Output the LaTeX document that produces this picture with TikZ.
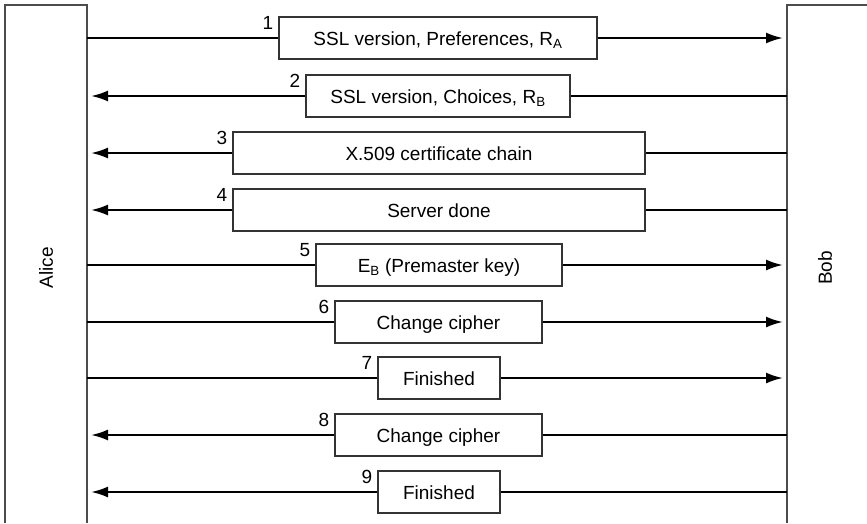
\documentclass[tikz,border=0pt]{standalone}
\usepackage{fontspec}
\setmainfont{Liberation Sans}
\usetikzlibrary{arrows.meta}

\begin{document}
\begin{tikzpicture}[x=1pt,y=-1pt,
        every node/.style={font=\fontsize{19}{23}\selectfont},
        msg/.style={draw=black!80,line width=1.2pt,minimum height=42pt,
            inner sep=0pt,text height=15pt,text depth=0pt},
        num/.style={anchor=north east,inner sep=0pt},
        wire/.style={line width=2.2pt},
        tip/.style={wire,-{Latex[length=17pt,width=11pt]},shorten >=4pt},
        life/.style={draw=black!70,line width=1.2pt}]
    \useasboundingbox (0,0) rectangle (867,523);

    % the two parties
    \draw[life] (5,523) -- (5,5) -- (87,5) -- (87,523);
    \draw[life] (787,523) -- (787,5) -- (867,5);
    \node[rotate=90] (alice) at (46,268) {Alice};
    \node[rotate=90] (bob) at (825,268) {Bob};

    % messages
    \node[msg,minimum width=318pt] (m1) at (438,38) {SSL version, Preferences, R\textsubscript{A}};
    \node[msg,minimum width=264pt] (m2) at (438,96) {SSL version, Choices, R\textsubscript{B}};
    \node[msg,minimum width=412pt] (m3) at (439,153) {X.509 certificate chain};
    \node[msg,minimum width=412pt] (m4) at (439,210) {Server done};
    \node[msg,minimum width=246pt] (m5) at (439,265) {E\textsubscript{B} (Premaster key)};
    \node[msg,minimum width=207pt] (m6) at (438.5,322) {Change cipher};
    \node[msg,minimum width=122pt] (m7) at (439,378) {Finished};
    \node[msg,minimum width=207pt] (m8) at (438.5,435) {Change cipher};
    \node[msg,minimum width=122pt] (m9) at (439,492) {Finished};

    \node[num] (n1) at ([xshift=-5pt]m1.north west) {1};
    \node[num] (n2) at ([xshift=-5pt]m2.north west) {2};
    \node[num] (n3) at ([xshift=-5pt]m3.north west) {3};
    \node[num] (n4) at ([xshift=-5pt]m4.north west) {4};
    \node[num] (n5) at ([xshift=-5pt]m5.north west) {5};
    \node[num] (n6) at ([xshift=-5pt]m6.north west) {6};
    \node[num] (n7) at ([xshift=-5pt]m7.north west) {7};
    \node[num] (n8) at ([xshift=-5pt]m8.north west) {8};
    \node[num] (n9) at ([xshift=-5pt]m9.north west) {9};

    % ends on the lifelines
    \coordinate (a1) at (87,38);   \coordinate (b1) at (787,38);
    \coordinate (a2) at (87,96);   \coordinate (b2) at (787,96);
    \coordinate (a3) at (87,153);  \coordinate (b3) at (787,153);
    \coordinate (a4) at (87,210);  \coordinate (b4) at (787,210);
    \coordinate (a5) at (87,265);  \coordinate (b5) at (787,265);
    \coordinate (a6) at (87,322);  \coordinate (b6) at (787,322);
    \coordinate (a7) at (87,378);  \coordinate (b7) at (787,378);
    \coordinate (a8) at (87,435);  \coordinate (b8) at (787,435);
    \coordinate (a9) at (87,492);  \coordinate (b9) at (787,492);

    % Alice to Bob
    \draw[wire] (a1) -- (m1); \draw[tip] (m1) -- (b1);
    \draw[wire] (a5) -- (m5); \draw[tip] (m5) -- (b5);
    \draw[wire] (a6) -- (m6); \draw[tip] (m6) -- (b6);
    \draw[wire] (a7) -- (m7); \draw[tip] (m7) -- (b7);
    % Bob to Alice
    \draw[wire] (b2) -- (m2); \draw[tip] (m2) -- (a2);
    \draw[wire] (b3) -- (m3); \draw[tip] (m3) -- (a3);
    \draw[wire] (b4) -- (m4); \draw[tip] (m4) -- (a4);
    \draw[wire] (b8) -- (m8); \draw[tip] (m8) -- (a8);
    \draw[wire] (b9) -- (m9); \draw[tip] (m9) -- (a9);
\end{tikzpicture}
\end{document}
